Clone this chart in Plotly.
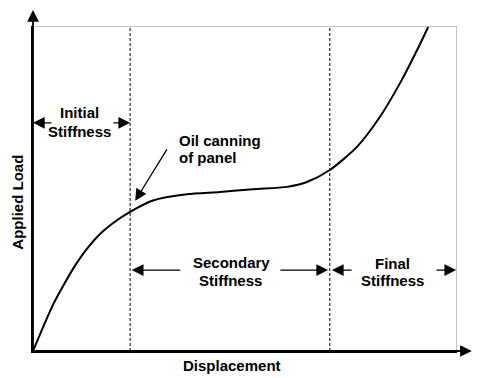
import plotly.graph_objects as go

# Curve (displacement, applied load) in relative units (0-100 frame)
disp = [0, 2.4, 4.7, 7.1, 9.4, 12.7, 15.8, 18.9, 22.9, 28.3, 36.3, 44.1, 51.9, 59.9, 64.6,
        70.0, 76.4, 81.8, 86.6, 90.6, 93.2]
load = [0, 7.4, 14.2, 20.0, 25.2, 31.4, 36.0, 39.4, 42.8, 46.3, 48.2, 48.9, 49.8, 50.5, 52.0,
        55.7, 62.8, 72.0, 82.5, 92.6, 99.7]
region_bounds = [22.9, 70.0]

FONT = "Liberation Sans, Arial, sans-serif"
FS = 15

fig = go.Figure()
fig.add_trace(go.Scatter(x=disp, y=load, mode="lines",
                         line=dict(color="black", width=2, shape="spline", smoothing=0.7),
                         hoverinfo="skip", showlegend=False))

shapes = []
for xb in region_bounds:
    shapes.append(dict(type="line", xref="x", yref="y", x0=xb, x1=xb, y0=0, y1=100,
                       line=dict(color="black", width=1, dash="3px,2px")))
# gray frame top and right
shapes.append(dict(type="line", xref="x", yref="y", x0=0, x1=100, y0=100, y1=100,
                   line=dict(color="#888888", width=1)))
shapes.append(dict(type="line", xref="x", yref="y", x0=100, x1=100, y0=0, y1=100,
                   line=dict(color="#888888", width=1)))

ann = []
def arrow(xh, yh, xt, yt):
    ann.append(dict(x=xh, y=yh, ax=xt, ay=yt, xref="x", yref="y", axref="x", ayref="y",
                    text="", showarrow=True, arrowhead=2, arrowsize=1.8, arrowwidth=1.3,
                    arrowcolor="black", standoff=0, startstandoff=0))

def label(x, y, text, xanchor="center"):
    ann.append(dict(x=x, y=y, xref="x", yref="y", text="<b>" + text + "</b>", showarrow=False,
                    xanchor=xanchor, yanchor="middle",
                    font=dict(family=FONT, size=FS, color="black")))

# Initial stiffness
label(11.08, 73.4, "Initial")
label(10.85, 67.4, "Stiffness")
arrow(0, 70.2, 4.7, 70.2)
arrow(22.9, 70.2, 18.6, 70.2)
# Oil canning
label(33.96, 64.8, "Oil canning", xanchor="left")
label(33.96, 59.4, "of panel", xanchor="left")
arrow(24.1, 46.2, 31.8, 62.5)
# Secondary
label(46.7, 27.1, "Secondary")
label(46.5, 21.8, "Stiffness")
arrow(23.3, 24.9, 35.1, 24.9)
arrow(69.6, 24.9, 58.0, 24.9)
# Final
label(84.7, 26.9, "Final")
label(84.9, 21.8, "Stiffness")
arrow(70.5, 24.9, 75.5, 24.9)
arrow(99.8, 24.9, 94.8, 24.9)

# axis arrows
ann.append(dict(x=0, y=1.049, xref="paper", yref="paper", ax=0, ay=341, axref="pixel", ayref="pixel",
                text="", showarrow=True, arrowhead=2, arrowsize=1.3, arrowwidth=1.8, arrowcolor="black",
                standoff=0))
ann.append(dict(x=1.035, y=0, xref="paper", yref="paper", ax=-439, ay=0, axref="pixel", ayref="pixel",
                text="", showarrow=True, arrowhead=2, arrowsize=1.3, arrowwidth=1.8, arrowcolor="black",
                standoff=0))
# axis titles
ann.append(dict(x=-0.0366, y=0.458, xref="paper", yref="paper", text="<b>Applied Load</b>",
                textangle=-90, showarrow=False, xanchor="center", yanchor="middle",
                font=dict(family=FONT, size=FS, color="black")))
ann.append(dict(x=0.469, y=-0.046, xref="paper", yref="paper", text="<b>Displacement</b>",
                showarrow=False, xanchor="center", yanchor="middle",
                font=dict(family=FONT, size=FS, color="black")))

fig.update_layout(
    width=490, height=378,
    margin=dict(l=33, r=33, t=26, b=27, autoexpand=False),
    paper_bgcolor="white", plot_bgcolor="white",
    shapes=shapes, annotations=ann,
    xaxis=dict(range=[0, 100], showgrid=False, zeroline=False, showticklabels=False, ticks="",
               showline=True, linecolor="black", linewidth=2),
    yaxis=dict(range=[0, 100], showgrid=False, zeroline=False, showticklabels=False, ticks="",
               showline=True, linecolor="black", linewidth=2),
    showlegend=False,
)

fig.write_html("out.html", config={"displayModeBar": False},
               post_script="document.body.style.margin='0';document.body.style.overflow='hidden';")
